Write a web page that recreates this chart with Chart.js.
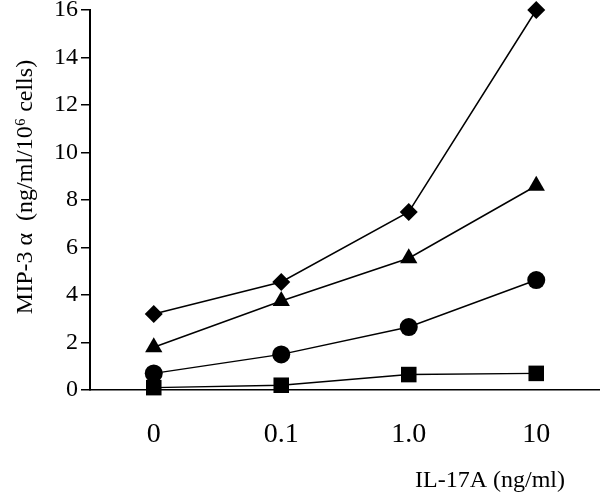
<!DOCTYPE html>
<html><head><meta charset="utf-8">
<script src="https://cdn.jsdelivr.net/npm/chart.js@4/dist/chart.umd.min.js"></script>
<style>html,body{margin:0;padding:0;background:#fff}#wrap{width:600px;height:494px;position:relative}</style>
</head><body><div id="wrap"><canvas id="c"></canvas></div>
<script>
const categories = ['0', '0.1', '1.0', '10'];
const diamondSeries = [3.2, 4.55, 7.5, 16.0];
const triangleSeries = [1.8, 3.75, 5.55, 8.6];
const circleSeries = [0.7, 1.5, 2.65, 4.63];
const squareSeries = [0.1, 0.2, 0.65, 0.7];
const yMin = 0, yMax = 16, yStep = 2;
const yTitle = 'MIP-3 \u03b1  (ng/ml/10\u2076 cells)';
const xTitle = 'IL-17A (ng/ml)';

const SERIF = '"Liberation Serif", "Times New Roman", serif';

function ds(data, style, radius) {
  return {
    data: data,
    borderColor: '#000',
    backgroundColor: '#000',
    borderWidth: 1.5,
    pointStyle: style,
    pointRadius: radius,
    pointBackgroundColor: '#000',
    pointBorderColor: '#000',
    pointBorderWidth: 0,
    tension: 0,
    fill: false,
    clip: false
  };
}

const titlePlugin = {
  id: 'titles',
  afterDraw(chart) {
    const ctx = chart.ctx;
    ctx.save();
    ctx.fillStyle = '#000';
    ctx.font = '24px ' + SERIF;
    ctx.textBaseline = 'alphabetic';
    ctx.save();
    ctx.translate(32, 187);
    ctx.rotate(-Math.PI / 2);
    ctx.textAlign = 'center';
    ctx.fillText(yTitle, 0, 0);
    ctx.restore();
    ctx.textAlign = 'right';
    ctx.fillText(xTitle, 565, 487);
    ctx.restore();
  }
};

new Chart(document.getElementById('c'), {
  type: 'line',
  data: {
    labels: categories,
    datasets: [
      ds(diamondSeries, 'rectRot', 9),
      ds(triangleSeries, 'triangle', 10),
      ds(circleSeries, 'circle', 9),
      ds(squareSeries, 'rect', 11)
    ]
  },
  options: {
    responsive: true,
    maintainAspectRatio: false,
    animation: false,
    layout: { autoPadding: false, padding: { top: 10, right: 0, left: 0, bottom: 0 } },
    plugins: { legend: { display: false }, tooltip: { enabled: false }, title: { display: false } },
    scales: {
      x: {
        type: 'category',
        offset: true,
        grid: { display: false, drawTicks: false },
        border: { display: true, color: '#000', width: 1.5 },
        ticks: { color: '#000', font: { family: SERIF, size: 28 }, padding: 28, maxRotation: 0 },
        afterFit(scale) { scale.height = 104; scale.paddingLeft = 0; scale.paddingRight = 0; }
      },
      y: {
        min: yMin,
        max: yMax,
        grid: { drawOnChartArea: false, drawTicks: true, tickLength: 9, color: '#000', lineWidth: 1.5 },
        border: { display: true, color: '#000', width: 2 },
        ticks: { stepSize: yStep, color: '#000', font: { family: SERIF, size: 24 }, padding: 3 },
        afterFit(scale) { scale.width = 90; scale.paddingTop = 0; scale.paddingBottom = 0; }
      }
    }
  },
  plugins: [titlePlugin]
});
</script>
</body></html>
